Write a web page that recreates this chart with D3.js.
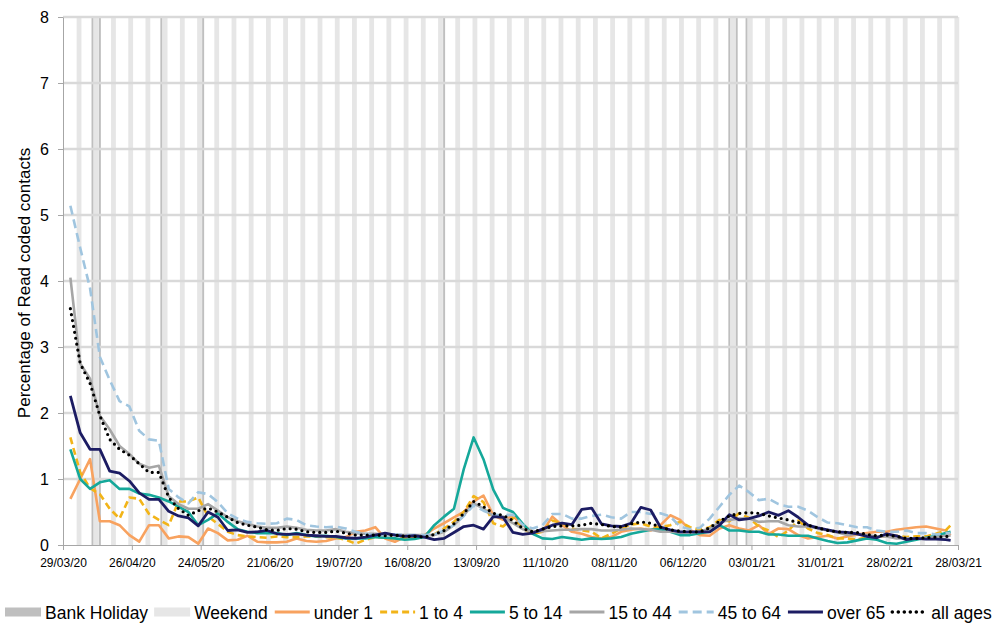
<!DOCTYPE html>
<html>
<head>
<meta charset="utf-8">
<script src="https://cdn.jsdelivr.net/npm/d3@7"></script>
<style>
  body { margin: 0; background: #fff; }
  svg { font-family: "Liberation Sans", Arial, sans-serif; }
</style>
</head>
<body>
<div id="chart"></div>
<script>
// sample dates (every 4 days) the series were read at
const sampleDates = [
  "2020-04-01","2020-04-05","2020-04-09","2020-04-13","2020-04-17","2020-04-21","2020-04-25","2020-04-29",
  "2020-05-03","2020-05-07","2020-05-11","2020-05-15","2020-05-19","2020-05-23","2020-05-27","2020-05-31",
  "2020-06-04","2020-06-08","2020-06-12","2020-06-16","2020-06-20","2020-06-24","2020-06-28",
  "2020-07-02","2020-07-06","2020-07-10","2020-07-14","2020-07-18","2020-07-22","2020-07-26","2020-07-30",
  "2020-08-03","2020-08-07","2020-08-11","2020-08-15","2020-08-19","2020-08-23","2020-08-27","2020-08-31",
  "2020-09-04","2020-09-08","2020-09-12","2020-09-16","2020-09-20","2020-09-24","2020-09-28",
  "2020-10-02","2020-10-06","2020-10-10","2020-10-14","2020-10-18","2020-10-22","2020-10-26","2020-10-30",
  "2020-11-03","2020-11-07","2020-11-11","2020-11-15","2020-11-19","2020-11-23","2020-11-27",
  "2020-12-01","2020-12-05","2020-12-09","2020-12-13","2020-12-17","2020-12-21","2020-12-25","2020-12-29",
  "2021-01-02","2021-01-06","2021-01-10","2021-01-14","2021-01-18","2021-01-22","2021-01-26","2021-01-30",
  "2021-02-03","2021-02-07","2021-02-11","2021-02-15","2021-02-19","2021-02-23","2021-02-27",
  "2021-03-03","2021-03-07","2021-03-11","2021-03-15","2021-03-19","2021-03-23","2021-03-25"
];

const under1 = [
  0.7, 1.0, 1.3, 0.36, 0.36, 0.3, 0.15, 0.05, 0.3, 0.3, 0.1, 0.13, 0.12, 0.02, 0.25,
  0.18, 0.07, 0.08, 0.14, 0.05, 0.04, 0.04, 0.05, 0.1, 0.06, 0.05, 0.06, 0.1, 0.12, 0.2, 0.22, 0.27, 0.1, 0.05, 0.12, 0.12, 0.15,
  0.25, 0.33, 0.42, 0.5, 0.66, 0.75, 0.45, 0.38, 0.44, 0.3, 0.2, 0.2, 0.43, 0.3, 0.2, 0.17, 0.12, 0.1, 0.12, 0.2, 0.23, 0.25, 0.22, 0.3, 0.45, 0.38, 0.23, 0.15, 0.14,
  0.25, 0.3, 0.25, 0.22, 0.3, 0.17, 0.25, 0.24, 0.15, 0.1, 0.12, 0.14, 0.1, 0.13, 0.16, 0.18, 0.2, 0.2, 0.23, 0.25, 0.27, 0.28, 0.25, 0.22, 0.15
];
const age1to4 = [
  1.63, 1.1, 0.86, 0.77, 0.55, 0.4, 0.72, 0.7, 0.47, 0.38, 0.3, 0.66, 0.66, 0.72, 0.43,
  0.32, 0.2, 0.15, 0.13, 0.12, 0.11, 0.13, 0.12, 0.12, 0.13, 0.13, 0.12, 0.11, 0.08, 0.02, 0.08, 0.12, 0.11, 0.1, 0.1, 0.12, 0.14,
  0.16, 0.25, 0.35, 0.5, 0.74, 0.65, 0.33, 0.28, 0.41, 0.25, 0.17, 0.2, 0.37, 0.33, 0.25, 0.22, 0.2, 0.1, 0.17, 0.25, 0.31, 0.33, 0.28, 0.27, 0.3, 0.35, 0.27, 0.23, 0.27,
  0.38, 0.36, 0.48, 0.41, 0.28, 0.22, 0.12, 0.22, 0.37, 0.25, 0.18, 0.15, 0.1, 0.1, 0.08, 0.12, 0.12, 0.14, 0.14, 0.12, 0.13, 0.13, 0.17, 0.22, 0.3
];
const age5to14 = [
  1.45, 1.0, 0.85, 0.95, 0.98, 0.85, 0.85, 0.78, 0.76, 0.72, 0.66, 0.58, 0.5, 0.3, 0.38,
  0.48, 0.35, 0.24, 0.2, 0.18, 0.18, 0.18, 0.15, 0.18, 0.15, 0.13, 0.14, 0.12, 0.1, 0.1, 0.1, 0.12, 0.11, 0.1, 0.08, 0.09, 0.12,
  0.3, 0.43, 0.55, 1.15, 1.63, 1.3, 0.84, 0.56, 0.5, 0.32, 0.17, 0.1, 0.09, 0.12, 0.1, 0.08, 0.1, 0.09, 0.1, 0.12, 0.17, 0.2, 0.23, 0.24, 0.2, 0.15, 0.15, 0.18, 0.2,
  0.3, 0.22, 0.22, 0.2, 0.2, 0.16, 0.16, 0.14, 0.14, 0.14, 0.1, 0.06, 0.03, 0.04, 0.07, 0.1, 0.08, 0.03, 0.02, 0.05, 0.08, 0.11, 0.14, 0.18, 0.2
];
const age15to44 = [
  4.05, 2.75, 2.52, 1.96, 1.75, 1.5, 1.38, 1.23, 1.17, 1.2, 0.74, 0.62, 0.55, 0.55, 0.62,
  0.52, 0.42, 0.36, 0.32, 0.28, 0.26, 0.26, 0.28, 0.26, 0.23, 0.22, 0.22, 0.24, 0.2, 0.18, 0.17, 0.17, 0.16, 0.16, 0.15, 0.15, 0.15,
  0.15, 0.2, 0.3, 0.45, 0.63, 0.55, 0.44, 0.43, 0.33, 0.24, 0.2, 0.21, 0.22, 0.23, 0.23, 0.24, 0.24, 0.22, 0.22, 0.23, 0.25, 0.24, 0.23, 0.2, 0.2, 0.19, 0.19, 0.2, 0.25,
  0.34, 0.38, 0.4, 0.4, 0.35, 0.36, 0.36, 0.3, 0.28, 0.28, 0.25, 0.22, 0.19, 0.15, 0.17, 0.15, 0.13, 0.13, 0.1, 0.1, 0.1, 0.1, 0.12, 0.14, 0.14
];
const age45to64 = [
  5.14, 4.5, 3.89, 2.85, 2.5, 2.18, 2.1, 1.73, 1.6, 1.58, 0.85, 0.72, 0.63, 0.8, 0.77,
  0.65, 0.48, 0.4, 0.35, 0.33, 0.32, 0.33, 0.4, 0.38, 0.3, 0.28, 0.27, 0.28, 0.25, 0.2, 0.17, 0.15, 0.15, 0.16, 0.15, 0.15, 0.15,
  0.16, 0.22, 0.3, 0.44, 0.6, 0.52, 0.46, 0.45, 0.46, 0.3, 0.25, 0.3, 0.47, 0.47, 0.4, 0.4, 0.44, 0.46, 0.42, 0.4, 0.5, 0.5, 0.47, 0.48, 0.43, 0.28, 0.24, 0.26, 0.4,
  0.58, 0.76, 0.9, 0.8, 0.68, 0.7, 0.62, 0.58, 0.58, 0.52, 0.42, 0.34, 0.33, 0.3, 0.27, 0.27, 0.22, 0.2, 0.2, 0.22, 0.18, 0.18, 0.16, 0.18, 0.18
];
const over65 = [
  2.26, 1.7, 1.45, 1.45, 1.12, 1.09, 0.97, 0.79, 0.69, 0.69, 0.51, 0.44, 0.41, 0.29, 0.5,
  0.42, 0.22, 0.23, 0.19, 0.2, 0.22, 0.17, 0.16, 0.17, 0.15, 0.14, 0.13, 0.13, 0.11, 0.1, 0.12, 0.15, 0.18, 0.15, 0.13, 0.14, 0.12,
  0.08, 0.1, 0.19, 0.28, 0.3, 0.24, 0.43, 0.42, 0.19, 0.16, 0.18, 0.24, 0.3, 0.33, 0.31, 0.54, 0.56, 0.32, 0.29, 0.28, 0.33, 0.57, 0.53, 0.27, 0.23, 0.2, 0.2, 0.2, 0.2,
  0.3, 0.46, 0.38, 0.4, 0.44, 0.5, 0.45, 0.52, 0.42, 0.3, 0.26, 0.23, 0.2, 0.19, 0.17, 0.13, 0.11, 0.17, 0.14, 0.08, 0.1, 0.09, 0.09, 0.08, 0.07
];
const allAges = [
  3.58, 2.75, 2.45, 1.96, 1.6, 1.45, 1.36, 1.23, 1.1, 1.1, 0.72, 0.55, 0.45, 0.52, 0.56,
  0.5, 0.42, 0.34, 0.3, 0.27, 0.23, 0.22, 0.25, 0.24, 0.2, 0.19, 0.19, 0.21, 0.18, 0.15, 0.15, 0.15, 0.14, 0.15, 0.13, 0.13, 0.12,
  0.16, 0.22, 0.32, 0.48, 0.66, 0.58, 0.48, 0.45, 0.37, 0.25, 0.2, 0.24, 0.28, 0.29, 0.29, 0.3, 0.33, 0.31, 0.28, 0.27, 0.32, 0.35, 0.33, 0.27, 0.23, 0.21, 0.2, 0.2, 0.26,
  0.36, 0.44, 0.48, 0.49, 0.48, 0.44, 0.41, 0.38, 0.34, 0.3, 0.26, 0.22, 0.2, 0.19, 0.19, 0.16, 0.14, 0.15, 0.13, 0.1, 0.1, 0.11, 0.12, 0.13, 0.13
];

const bankHolidays = ["2020-04-10","2020-04-13","2020-05-08","2020-05-25","2020-08-31","2020-12-25","2020-12-28","2021-01-01"];
const tickDates = ["2020-03-29","2020-04-26","2020-05-24","2020-06-21","2020-07-19","2020-08-16","2020-09-13",
                   "2020-10-11","2020-11-08","2020-12-06","2021-01-03","2021-01-31","2021-02-28","2021-03-28"];
const yTicks = [0, 1, 2, 3, 4, 5, 6, 7, 8];

const seriesNames = ["under 1", "1 to 4", "5 to 14", "15 to 44", "45 to 64", "over 65", "all ages"];
const seriesValues = [under1, age1to4, age5to14, age15to44, age45to64, over65, allAges];

// line looks, by series name
const lineStyle = {
  "under 1":  {color: "#f8a25f", width: 2.6, dash: null},
  "1 to 4":   {color: "#f2b418", width: 2.6, dash: "7,4"},
  "5 to 14":  {color: "#15a89a", width: 2.6, dash: null},
  "15 to 44": {color: "#a6a6a6", width: 2.6, dash: null},
  "45 to 64": {color: "#a0c5df", width: 2.6, dash: "9,5"},
  "over 65":  {color: "#1c1c63", width: 2.8, dash: null},
  "all ages": {color: "#000000", width: 3.2, dash: "0,6"}
};
const weekendFill = "#e6e6e6", holidayFill = "#bfbfbf";

const parseDate = d3.timeParse("%Y-%m-%d");
const width = 995, height = 627;

const svg = d3.select("#chart").append("svg")
  .attr("width", width)
  .attr("height", height);

const x = d3.scaleTime()
  .domain([parseDate("2020-03-29"), parseDate("2021-03-28")])
  .range([63, 958]);
const y = d3.scaleLinear()
  .domain([0, 8])
  .range([545, 17]);

const dayW = (x.range()[1] - x.range()[0]) / d3.timeDay.count(x.domain()[0], x.domain()[1]);

// weekend bands (saturday + sunday)
const saturdays = d3.timeSaturday.range(x.domain()[0], d3.timeDay.offset(x.domain()[1], 1));
svg.append("g")
  .selectAll("rect")
  .data(saturdays)
  .join("rect")
  .attr("x", d => x(d) - 0.45 * dayW)
  .attr("width", 1.95 * dayW)
  .attr("y", y(8))
  .attr("height", y(0) - y(8))
  .attr("fill", weekendFill);

// bank holidays
svg.append("g")
  .selectAll("rect")
  .data(bankHolidays.map(parseDate))
  .join("rect")
  .attr("x", d => x(d) - 0.4 * dayW)
  .attr("width", 0.8 * dayW)
  .attr("y", y(8))
  .attr("height", y(0) - y(8))
  .attr("fill", holidayFill);

// horizontal gridlines
svg.append("g")
  .selectAll("line")
  .data(yTicks.filter(v => v > 0))
  .join("line")
  .attr("x1", x.range()[0])
  .attr("x2", x.range()[1])
  .attr("y1", d => y(d))
  .attr("y2", d => y(d))
  .attr("stroke", "#d9d9d9")
  .attr("stroke-width", 2.4);

// axes
const gx = svg.append("g")
  .attr("transform", `translate(0,${y(0)})`)
  .call(d3.axisBottom(x)
    .tickValues(tickDates.map(parseDate))
    .tickFormat(d3.timeFormat("%d/%m/%y"))
    .tickSize(5)
    .tickSizeOuter(0)
    .tickPadding(8));
gx.attr("font-size", 12).attr("font-family", null);
gx.select(".domain").attr("stroke", "#a6a6a6");
gx.selectAll(".tick line").attr("stroke", "#a6a6a6");
gx.selectAll(".tick text").attr("fill", "#000");

const gy = svg.append("g")
  .attr("transform", `translate(${x.range()[0]},0)`)
  .call(d3.axisLeft(y)
    .tickValues(yTicks)
    .tickFormat(d3.format("d"))
    .tickSize(5)
    .tickSizeOuter(0)
    .tickPadding(9));
gy.attr("font-size", 16).attr("font-family", null);
gy.select(".domain").attr("stroke", "#a6a6a6");
gy.selectAll(".tick line").attr("stroke", "#a6a6a6");
gy.selectAll(".tick text").attr("fill", "#000");

svg.append("text")
  .attr("transform", `translate(30,${(y(0) + y(8)) / 2 + 2}) rotate(-90)`)
  .attr("text-anchor", "middle")
  .attr("font-size", 17)
  .attr("fill", "#000")
  .text("Percentage of Read coded contacts");

// series lines
const line = d3.line()
  .x(d => x(d.date))
  .y(d => y(d.value));

seriesNames.forEach((name, k) => {
  const pts = sampleDates.map((s, i) => ({date: parseDate(s), value: seriesValues[k][i]}));
  const st = lineStyle[name];
  svg.append("path")
    .datum(pts)
    .attr("d", line)
    .attr("fill", "none")
    .attr("stroke", st.color)
    .attr("stroke-width", st.width)
    .attr("stroke-linejoin", "round")
    .attr("stroke-linecap", name === "all ages" ? "round" : "butt")
    .attr("stroke-dasharray", st.dash);
});

// legend
const legendItems = [
  {label: "Bank Holiday", bar: holidayFill},
  {label: "Weekend", bar: weekendFill}
].concat(seriesNames.map(n => ({label: n, line: lineStyle[n]})));

const legend = svg.append("g").attr("font-size", 17.5);
const swatchW = 36, legendY = 612;
let lx = 5;
legendItems.forEach(item => {
  if (item.bar) {
    legend.append("rect")
      .attr("x", lx).attr("y", legendY - 4.5)
      .attr("width", swatchW).attr("height", 9)
      .attr("fill", item.bar);
  } else {
    legend.append("line")
      .attr("x1", lx + 1).attr("x2", lx + swatchW)
      .attr("y1", legendY).attr("y2", legendY)
      .attr("stroke", item.line.color)
      .attr("stroke-width", item.line.width + 0.4)
      .attr("stroke-linecap", item.label === "all ages" ? "round" : "butt")
      .attr("stroke-dasharray", item.line.dash);
  }
  const t = legend.append("text")
    .attr("x", lx + swatchW + 4)
    .attr("y", legendY + 6.5)
    .attr("fill", "#000")
    .text(item.label);
  lx += swatchW + 4 + t.node().getComputedTextLength() + 6;
});
</script>
</body>
</html>
